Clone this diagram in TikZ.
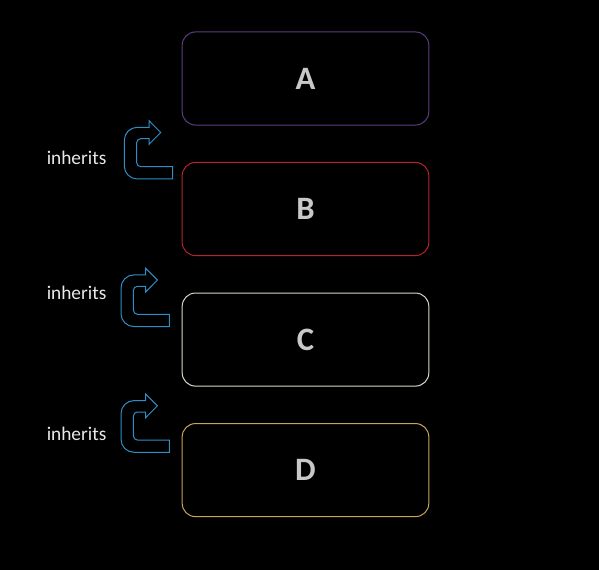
\documentclass[tikz,border=0pt]{standalone}
\usepackage{fontspec}
\setmainfont{Carlito}
\usepackage{tikz}

\definecolor{edgeA}{HTML}{5E3C82}
\definecolor{edgeB}{HTML}{B8222A}
\definecolor{edgeC}{HTML}{D4D9C6}
\definecolor{edgeD}{HTML}{C9A35A}
\definecolor{letter}{HTML}{C8C8C8}
\definecolor{tagtext}{HTML}{E8E8E8}
\definecolor{turnblue}{HTML}{2E8FC8}

\begin{document}
\begin{tikzpicture}[x=0.75pt, y=-0.75pt, node distance=97.9pt,
    box/.style={draw, rounded corners=10pt, line width=0.75pt, minimum width=185pt, minimum height=69.8pt, text=letter, font=\bfseries\fontsize{24.5}{29}\selectfont},
    tag/.style={text=tagtext, font=\fontsize{14.5}{17}\selectfont, anchor=base west, inner sep=0pt},
    uturn/.pic={
        \draw [turnblue, line width=0.75pt, line join=miter]
            (13,6.6) arc [start angle=270, end angle=180, radius=13]
            -- (0,45.3) arc [start angle=180, end angle=90, radius=13]
            -- (48.4,58.3) -- (48.4,46)
            -- (16.4,46) arc [start angle=90, end angle=180, radius=4]
            -- (12.4,22) arc [start angle=180, end angle=270, radius=4]
            -- (24.7,18) -- (24.7,23.6) -- (36.4,11.8) -- (24.7,0) -- (24.7,6.6) -- cycle;
    }]
    % Background
    \fill [black] (0,0) rectangle (599,570);

    % Nodes {A, B, C, D}
    \node [box, draw=edgeA]             (A)                  at (305.5,78.5) {A};
    \node [box, draw=edgeB]             (B)  [below of=A]    {B};
    \node [box, draw=edgeC]             (C)  [below of=B]    {C};
    \node [box, draw=edgeD]             (D)  [below of=C]    {D};

    % Labels
    \node [tag]     (t1)    at (46.5,165)   {inherits};
    \node [tag]     (t2)    at (46.5,299.5) {inherits};
    \node [tag]     (t3)    at (46.5,440)   {inherits};

    % Arrows
    \pic (u1) at (124.3,120.7)  {uturn};
    \pic (u2) at (121,268.3)    {uturn};
    \pic (u3) at (121,394)      {uturn};

\end{tikzpicture}
\end{document}
